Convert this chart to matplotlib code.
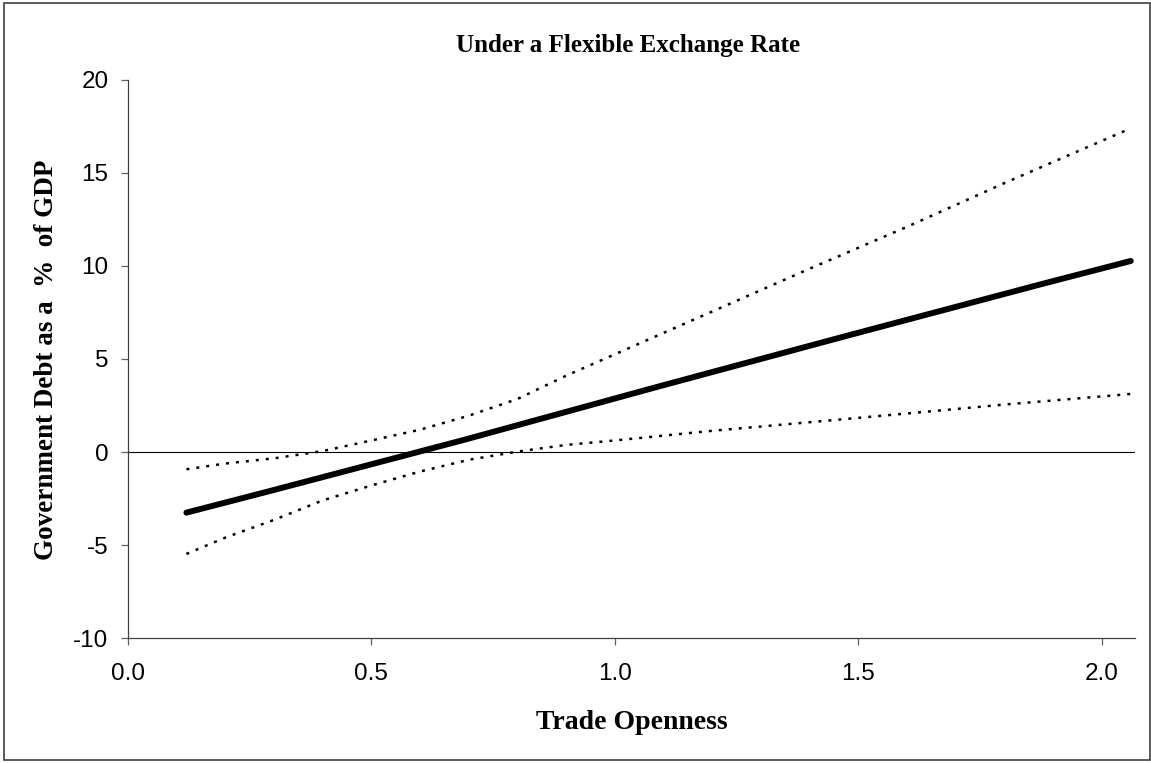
import matplotlib
matplotlib.use("Agg")
import matplotlib.pyplot as plt
from matplotlib.patches import Rectangle

# trade openness values and estimated effect on debt
x_main = [0.12, 0.30, 0.69, 1.08, 1.47, 1.87, 2.06]
y_main = [-3.26, -2.04, 0.65, 3.45, 6.20, 8.98, 10.27]

# confidence bands
x_band = [0.12, 0.2, 0.3, 0.4, 0.5, 0.6, 0.7, 0.8, 0.9, 1.0, 1.2, 1.4, 1.6, 1.8, 2.06]
y_upper = [-0.93, -0.62, -0.34, 0.05, 0.62, 1.2, 1.95, 2.85, 4.1, 5.25, 7.55, 9.85, 12.1, 14.45, 17.4]
y_lower = [-5.48, -4.6, -3.65, -2.6, -1.8, -1.05, -0.42, 0.02, 0.38, 0.62, 1.14, 1.6, 2.07, 2.55, 3.12]

xticks = [0.0, 0.5, 1.0, 1.5, 2.0]
yticks = [-10, -5, 0, 5, 10, 15, 20]

serif = ['Liberation Serif', 'DejaVu Serif']
sans = ['Liberation Sans', 'DejaVu Sans']

fig = plt.figure(figsize=(11.51, 7.63), dpi=100)
fig.patches.append(Rectangle((0.0035, 0.004), 0.9955, 0.992, transform=fig.transFigure,
                             fill=False, edgecolor='#404040', linewidth=1.2))

ax = fig.add_axes([0.1112, 0.1638, 0.875, 0.7314])

ax.axhline(0, color='black', linewidth=0.8, zorder=1)
ax.plot(x_band, y_upper, color='black', linewidth=1.8, linestyle=(0, (1.2, 2.8)))
ax.plot(x_band, y_lower, color='black', linewidth=1.8, linestyle=(0, (1.2, 2.8)))
ax.plot(x_main, y_main, color='black', linewidth=4.3, solid_capstyle='round')

ax.set_xlim(0, 2.069)
ax.set_ylim(-10, 20)
ax.set_xticks(xticks)
ax.set_xticklabels(['%.1f' % v for v in xticks])
ax.set_yticks(yticks)
ax.set_yticklabels([str(v) for v in yticks])

for side in ['top', 'right']:
    ax.spines[side].set_visible(False)
for side in ['left', 'bottom']:
    ax.spines[side].set_color('#404040')
    ax.spines[side].set_linewidth(0.9)

ax.tick_params(axis='both', direction='out', length=5, width=0.9, color='#606060',
               labelsize=17.5, labelcolor='black')
ax.tick_params(axis='y', pad=9)
ax.tick_params(axis='x', pad=13)
for lab in ax.get_xticklabels() + ax.get_yticklabels():
    lab.set_family(sans)

fig.text(0.5456, 0.94, 'Under a Flexible Exchange Rate', ha='center', va='center',
         fontsize=18, fontweight='bold', family=serif)
fig.text(0.549, 0.0537, 'Trade Openness', ha='center', va='center',
         fontsize=20, fontweight='bold', family=serif)
fig.text(0.04, 0.528, 'Government Debt as a  %  of GDP', ha='center', va='center',
         rotation=90, fontsize=19.5, fontweight='bold', family=serif)

plt.savefig('out.png', dpi=100)
